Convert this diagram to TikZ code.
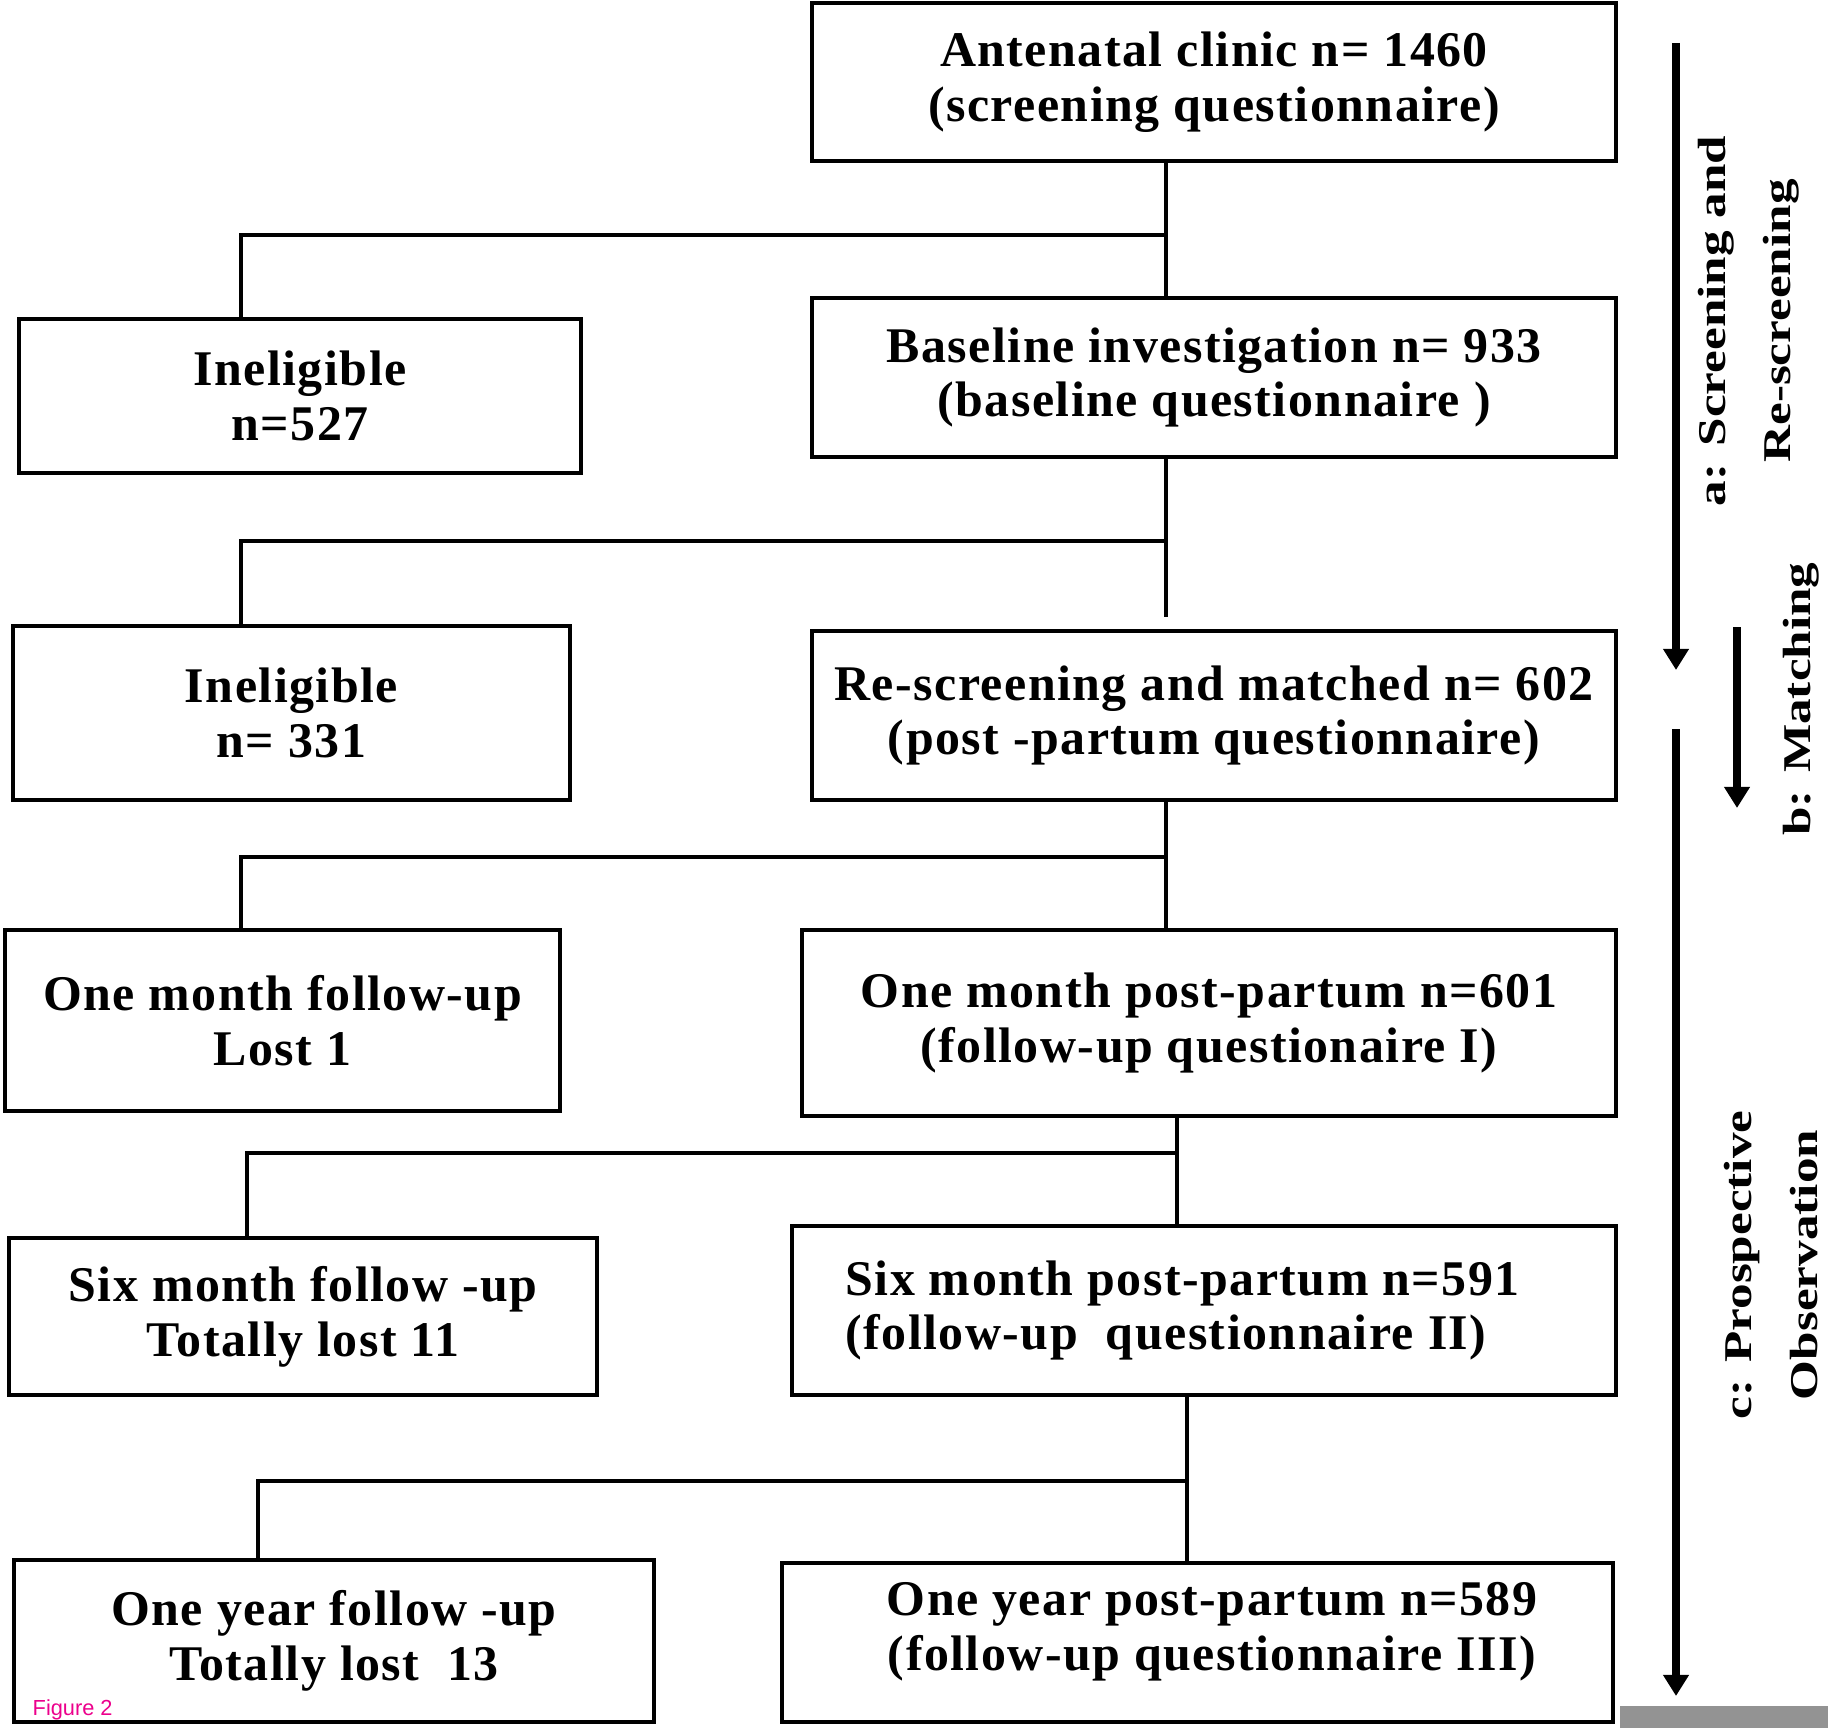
\documentclass[tikz,border=0pt]{standalone}
\usepackage{fontspec}
\setmainfont{Liberation Serif}
\newfontfamily\boxfont[LetterSpace=3]{Liberation Serif}
\newfontfamily\figfont{Liberation Sans}
\usepackage{xcolor}
\usepackage{tikz}
\usetikzlibrary{arrows.meta}
\usetikzlibrary{positioning}

\begin{document}
\begin{tikzpicture}[transform shape,scale=1,
		boxtext/.style={font=\boxfont\bfseries\fontsize{14.2}{15.6}\selectfont},
		stagebox/.style={boxtext,draw,line width=1.2pt,align=center,inner sep=0pt},
		link/.style={line width=1.2pt},
		phase/.style={line width=2.4pt,-{Triangle[width=7pt,length=6pt]}},
		phasetext/.style={rotate=90,xscale=1.3,align=center,font=\bfseries\fontsize{11.2}{18.5}\selectfont}]
		\useasboundingbox (0,0) rectangle (18.28,17.28);
		\fill[gray!85] (16.20,0) rectangle (18.28,0.22);
		% boxes on the right: the main line
		\node[stagebox,minimum width=8.04cm,minimum height=1.58cm] (ante) at (12.14,16.46) {Antenatal clinic n= 1460\\(screening questionnaire)};
		\node[stagebox,minimum width=8.04cm,minimum height=1.59cm] (base) at (12.14,13.505) {Baseline investigation n= 933\\(baseline questionnaire )};
		\node[stagebox,minimum width=8.04cm,minimum height=1.69cm] (match) at (12.14,10.125) {Re-screening and matched n= 602\\(post -partum questionnaire)};
		\node[stagebox,minimum width=8.14cm,minimum height=1.86cm] (month) at (12.09,7.05) {One month post-partum n=601\\(follow-up questionaire I)};
		\node[stagebox,minimum width=8.24cm,minimum height=1.69cm] (six) at (12.04,4.175) {};
		\node[boxtext,align=left,anchor=west] (sixtext) at (8.33,4.175) {Six month post-partum n=591\\(follow-up \ questionnaire II)};
		\node[stagebox,minimum width=8.31cm,minimum height=1.59cm] (year) at (11.975,0.855) {};
		\node[boxtext,align=center] (yeartext) at (12.12,0.96) {One year post-partum n=589\\(follow-up questionnaire III)};
		% boxes on the left: the losses
		\node[stagebox,minimum width=5.62cm,minimum height=1.54cm] (inelA) at (3.00,13.32) {Ineligible\\n=527};
		\node[stagebox,minimum width=5.57cm,minimum height=1.74cm] (inelB) at (2.915,10.15) {Ineligible\\n= 331};
		\node[stagebox,minimum width=5.55cm,minimum height=1.81cm] (lostA) at (2.825,7.075) {One month follow-up\\Lost 1};
		\node[stagebox,minimum width=5.88cm,minimum height=1.57cm] (lostB) at (3.03,4.115) {Six month follow -up\\Totally lost 11};
		\node[stagebox,minimum width=6.40cm,minimum height=1.62cm] (lostC) at (3.34,0.87) {One year follow -up\\Totally lost \ 13};
		% branch points
		\coordinate (j1) at (11.66,14.93);
		\coordinate (k1) at (2.41,14.93);
		\coordinate (j2) at (11.66,11.87);
		\coordinate (k2) at (2.41,11.87);
		\coordinate (j3) at (11.66,8.71);
		\coordinate (k3) at (2.41,8.71);
		\coordinate (j4) at (11.77,5.75);
		\coordinate (k4) at (2.47,5.75);
		\coordinate (j5) at (11.87,2.47);
		\coordinate (k5) at (2.58,2.47);
		\draw[link] (ante.south -| j1) -- (base.north -| j1);
		\draw[link] (j1) -- (k1) -- (k1 |- inelA.north);
		\draw[link] (base.south -| j2) -- ([yshift=0.12cm]match.north -| j2);
		\draw[link] (j2) -- (k2) -- (k2 |- inelB.north);
		\draw[link] (match.south -| j3) -- (month.north -| j3);
		\draw[link] (j3) -- (k3) -- (k3 |- lostA.north);
		\draw[link] (month.south -| j4) -- (six.north -| j4);
		\draw[link] (j4) -- (k4) -- (k4 |- lostB.north);
		\draw[link] (six.south -| j5) -- (year.north -| j5);
		\draw[link] (j5) -- (k5) -- (k5 |- lostC.north);
		% phases
		\coordinate (pa1) at (16.76,16.85);
		\coordinate (pa2) at (16.76,10.58);
		\coordinate (pb1) at (17.37,11.01);
		\coordinate (pb2) at (17.37,9.20);
		\coordinate (pc1) at (16.76,9.99);
		\coordinate (pc2) at (16.76,0.32);
		\draw[phase] (pa1) -- (pa2);
		\draw[phase] (pb1) -- (pb2);
		\draw[phase] (pc1) -- (pc2);
		\node[phasetext] (phaseA) at (17.49,14.07) {a: Screening and\\Re-screening};
		\node[phasetext] (phaseB) at (18.01,10.29) {b: Matching};
		\node[phasetext] (phaseC) at (17.71,4.63) {c: Prospective\\Observation};
		\node[anchor=west,inner sep=0pt,text=magenta,font=\figfont\fontsize{6.2}{7}\selectfont] (fig) at (0.32,0.18) {Figure 2};
	\end{tikzpicture}
\end{document}
